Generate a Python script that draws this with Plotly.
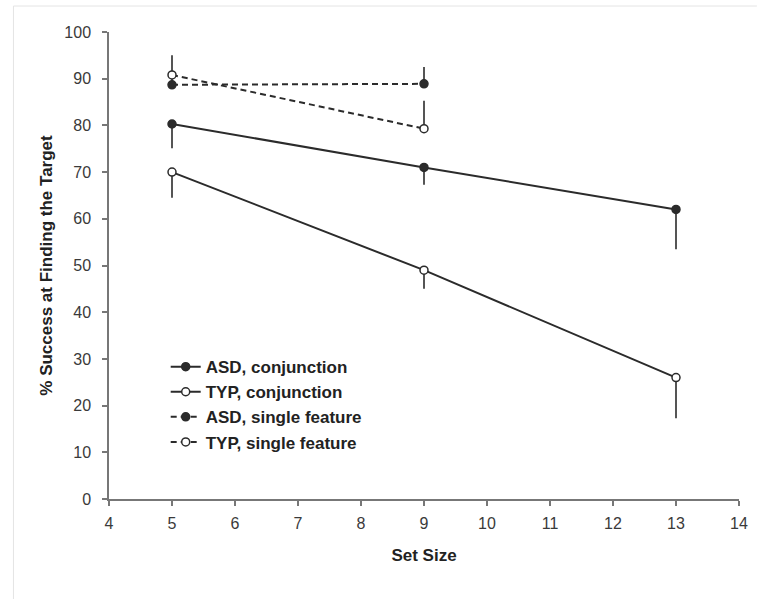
import plotly.graph_objects as go

set_size_conj = [5, 9, 13]
set_size_single = [5, 9]

asd_conj = [80.3, 71.0, 62.0]
asd_conj_err_down = [5.2, 3.7, 8.5]
typ_conj = [70.0, 49.0, 26.0]
typ_conj_err_down = [5.5, 4.0, 8.7]
asd_single = [88.7, 88.9]
asd_single_err_up = [4.0, 3.6]
typ_single = [90.8, 79.3]
typ_single_err_up = [4.2, 6.0]

names = ["ASD, conjunction", "TYP, conjunction", "ASD, single feature", "TYP, single feature"]

LINE = "#2b2b2b"
ERR = "#555555"
FONT = "Liberation Sans, Arial, sans-serif"

fig = go.Figure()

def add(x, y, name, filled, dash, up=None, down=None, group=""):
    n = len(x)
    fig.add_trace(go.Scatter(
        x=x, y=y, name="<b>" + name + "</b>", mode="lines+markers",
        legendgroup=group,
        line=dict(color=LINE, width=2, dash=dash),
        marker=dict(size=8, color=LINE if filled else "white",
                    line=dict(color=LINE, width=1.5)),
        error_y=dict(type="data", symmetric=False,
                     array=up if up is not None else [0] * n,
                     arrayminus=down if down is not None else [0] * n,
                     color=ERR, thickness=2, width=0),
    ))

add(set_size_conj, asd_conj, names[0], True, "solid", down=asd_conj_err_down, group="a")
add(set_size_conj, typ_conj, names[1], False, "solid", down=typ_conj_err_down, group="b")
add(set_size_single, asd_single, names[2], True, "6px,4px", up=asd_single_err_up, group="c")
add(set_size_single, typ_single, names[3], False, "6px,4px", up=typ_single_err_up, group="d")

axis_common = dict(
    showline=True, linecolor="#777777", linewidth=1.5,
    ticks="outside", ticklen=5, tickcolor="#777777", tickwidth=1.5,
    showgrid=False, zeroline=False,
    tickfont=dict(family=FONT, size=16, color="#3a3a3a"),
)

fig.update_layout(
    width=760, height=599,
    paper_bgcolor="white", plot_bgcolor="white",
    margin=dict(l=109, r=18, t=32, b=100),
    xaxis=dict(range=[4, 14], dtick=1, tick0=4, ticklabelstandoff=4,
               title=dict(text="<b>Set Size</b>", standoff=18,
                          font=dict(family=FONT, size=17, color="#222222")),
               **axis_common),
    yaxis=dict(range=[0, 100], dtick=10, tick0=0, ticklabelstandoff=8,
               title=dict(text="<b>% Success at Finding the Target</b>", standoff=7,
                          font=dict(family=FONT, size=17, color="#222222")),
               **axis_common),
    legend=dict(x=0.09, y=0.321, xanchor="left", yanchor="top",
                traceorder="grouped", tracegroupgap=0,
                font=dict(family=FONT, size=17, color="#222222"),
                bgcolor="rgba(0,0,0,0)"),
    showlegend=True,
)

# faint frame around the picture
fig.add_shape(type="line", xref="paper", yref="paper",
              x0=(13 - 109) / 633, x1=(13 - 109) / 633, y0=(499 - 6) / 467, y1=(499 - 599) / 467,
              line=dict(color="#e4e4e4", width=1))
fig.add_shape(type="line", xref="paper", yref="paper",
              x0=(13 - 109) / 633, x1=(760 - 109) / 633, y0=(499 - 6) / 467, y1=(499 - 6) / 467,
              line=dict(color="#e4e4e4", width=1))

fig.write_html("out.html")
